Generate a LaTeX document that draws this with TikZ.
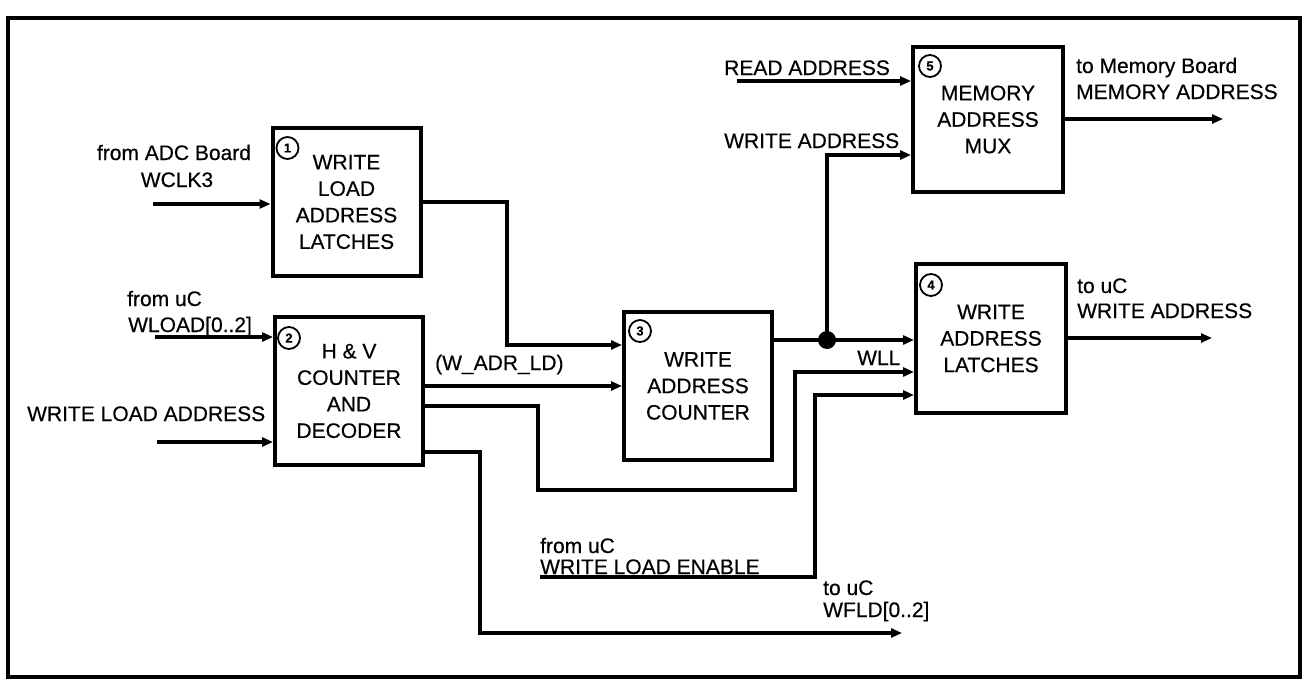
\documentclass[tikz,border=0pt]{standalone}
\usepackage{fontspec}
\setmainfont[FakeBold=0.4]{Liberation Sans}
\usetikzlibrary{arrows.meta,calc}
\begin{document}
\begin{tikzpicture}[x=1pt,y=-1pt,
  blk/.style={draw,line width=4pt,minimum width=148pt,minimum height=148pt,align=center,
    font=\fontsize{21}{26.5}\selectfont,inner sep=0pt},
  num/.style={draw,circle,line width=1.8pt,minimum size=22pt,inner sep=0pt,
    font=\fontsize{13}{13}\selectfont\bfseries},
  wire/.style={line width=3.3pt},
  arr/.style={wire,-{Triangle[length=11pt,width=9pt]}},
  lbl/.style={font=\fontsize{21}{21}\selectfont,inner sep=0pt,anchor=base west},
  jdot/.style={circle,fill,minimum size=18pt,inner sep=0pt},
]
\useasboundingbox (0,0) rectangle (1303,685);
\fill[white] (0,0) rectangle (1303,685);
% frame
\draw[line width=4pt] (8,18) rectangle (1300,677);

% blocks
\node[blk] (b1) at (346.5,202) {WRITE\\LOAD\\ADDRESS\\LATCHES};
\node[blk] (b2) at (349,391) {H \& V\\COUNTER\\AND\\DECODER};
\node[blk] (b3) at (698,386) {WRITE\\ADDRESS\\COUNTER};
\node[blk,minimum width=150pt,minimum height=149pt] (b4) at (991,338.5) {WRITE\\ADDRESS\\LATCHES};
\node[blk,minimum width=150pt,minimum height=145pt] (b5) at (988,119.5) {MEMORY\\ADDRESS\\MUX};

% circled numbers
\node[num] (n1) at ($(b1.north west)+(17,22)$) {1};
\node[num] (n2) at ($(b2.north west)+(16,23)$) {2};
\node[num] (n3) at ($(b3.north west)+(18,21)$) {3};
\node[num] (n4) at ($(b4.north west)+(17,23)$) {4};
\node[num] (n5) at ($(b5.north west)+(19,21)$) {5};

% coordinates
\coordinate (in1) at (153,204);
\coordinate (in2) at (155,337);
\coordinate (in3) at (157,442);
\coordinate (in4) at (540,577);
\coordinate (in5) at (737,81);
\coordinate (c1) at (507,345);
\coordinate (c2) at (538,406);
\coordinate (c3) at (795,490);
\coordinate (c4) at (795,372);
\coordinate (c5) at (480,452);
\coordinate (c6) at (815,395);
\coordinate (c7) at (827,155);
\coordinate (o1) at (902,633);
\coordinate (o2) at (1223,119);
\coordinate (o3) at (1212,338);
\node[jdot] (dot) at (827,340) {};

% connectors
\draw[arr] (in1) -- (in1 -| b1.west);
\draw[arr] (b1.east) -| (c1) -- (c1 -| b3.west);
\draw[arr] (in2) -- (in2 -| b2.west);
\draw[arr] (in3) -- (in3 -| b2.west);
\draw[arr] (b2.east |- b3.west) -- (b3.west);
\draw[arr] (b2.east |- c2) -- (c2) |- (c3) -- (c4) -- (c4 -| b4.west);
\draw[arr] (b2.east |- c5) -- (c5) |- (o1);
\draw[arr] (in4) -| (c6) -- (c6 -| b4.west);
\draw[wire] (b3.east |- dot) -- (dot.center);
\draw[arr] (dot.center) -- (dot.center -| b4.west);
\draw[arr] (dot.center) -- (c7) -- (c7 -| b5.west);
\draw[arr] (in5) -- (in5 -| b5.west);
\draw[arr] (b5.east |- o2) -- (o2);
\draw[arr] (b4.east |- o3) -- (o3);

% labels
\node[lbl,anchor=base] (l1) at (174,160) {from ADC Board};
\node[lbl,anchor=base] (l2) at (177,187) {WCLK3};
\node[lbl] (l3) at (127,306) {from uC};
\node[lbl] (l4) at (128,332) {WLOAD[0..2]};
\node[lbl] (l5) at (27,421) {WRITE LOAD ADDRESS};
\node[lbl] (l6) at (435,370) {(W\_ADR\_LD)};
\node[lbl] (l7) at (857,365) {WLL};
\node[lbl] (l8) at (724,75) {READ ADDRESS};
\node[lbl] (l9) at (724,148) {WRITE ADDRESS};
\node[lbl] (l10) at (1076,73) {to Memory Board};
\node[lbl] (l11) at (1076,99) {MEMORY ADDRESS};
\node[lbl] (l12) at (1077,293) {to uC};
\node[lbl] (l13) at (1077,318) {WRITE ADDRESS};
\node[lbl] (l14) at (540,553) {from uC};
\node[lbl] (l15) at (540,574) {WRITE LOAD ENABLE};
\node[lbl] (l16) at (823,595) {to uC};
\node[lbl] (l17) at (823,617) {WFLD[0..2]};
\end{tikzpicture}
\end{document}
